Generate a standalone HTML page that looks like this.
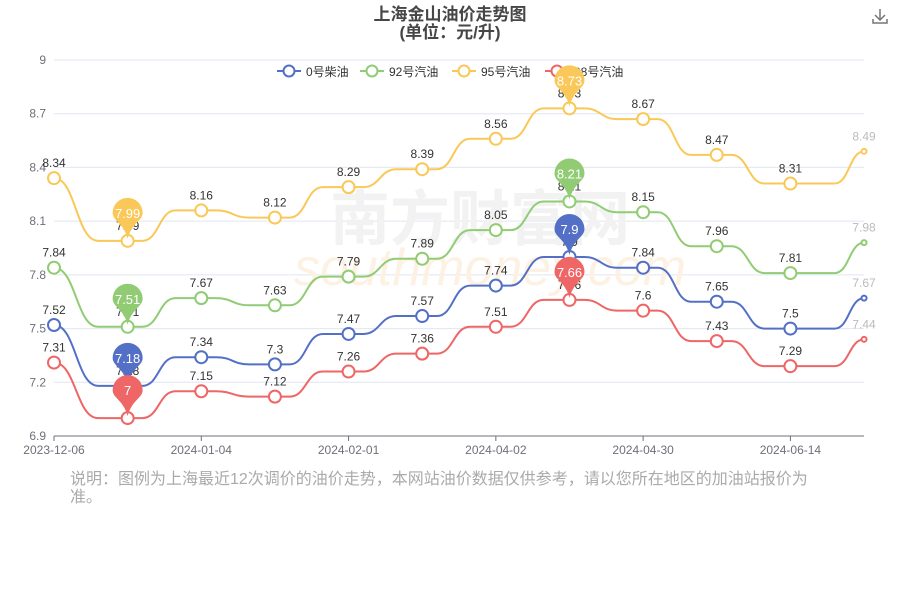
<!DOCTYPE html>
<html><head><meta charset="utf-8"><style>
body{margin:0;background:#fff;}
svg{display:block;font-family:"Liberation Sans","Noto Sans CJK SC",sans-serif;}
</style></head><body>
<svg id="c" width="900" height="600" xmlns="http://www.w3.org/2000/svg">
<text x="450" y="20" text-anchor="middle" font-size="17" font-weight="bold" fill="#464646">上海金山油价走势图</text>
<text x="450" y="38" text-anchor="middle" font-size="17" font-weight="bold" fill="#464646">(单位：元/升)</text>
<g stroke="#777" fill="none" stroke-width="1.5"><path d="M880 9v11M875 15l5 5 5-5M878 22h0M873 19v4h14v-4"/></g>
<g id="g"></g>
<text x="70" y="484" font-size="16" fill="#aaa">说明：图例为上海最近12次调价的油价走势，本网站油价数据仅供参考，请以您所在地区的加油站报价为</text>
<text x="70" y="502" font-size="16" fill="#aaa">准。</text>
</svg>
<script>
const g=document.getElementById('g');let h='';
const Y=v=>60+(9-v)*179.05;
const X=i=>54+i*73.64;
for(let k=0;k<=7;k++){const v=6.9+k*0.3,y=Y(v);
 h+=`<line x1="54" x2="864" y1="${y}" y2="${y}" stroke="#e0e6f1"/>`;
 h+=`<text x="46" y="${y+4}" text-anchor="end" font-size="12" fill="#6e7079">${+v.toFixed(1)}</text>`;}
h+=`<line x1="54" x2="864" y1="436" y2="436" stroke="#6e7079"/>`;
[[0,'2023-12-06'],[2,'2024-01-04'],[4,'2024-02-01'],[6,'2024-04-02'],[8,'2024-04-30'],[10,'2024-06-14']].forEach(([i,t])=>{
 h+=`<line x1="${X(i)}" x2="${X(i)}" y1="436" y2="441" stroke="#6e7079"/><text x="${X(i)}" y="454" text-anchor="middle" font-size="12" fill="#6e7079">${t}</text>`;});
h+=`<text x="480" y="240" text-anchor="middle" font-size="60" font-weight="bold" fill="#f2f2f2">南方财富网</text>`;
h+=`<text x="490" y="285" text-anchor="middle" font-size="52" font-style="italic" fill="#fdf1e4">southmoney.com</text>`;
const S=[
['#5470c6',[7.52,7.18,7.34,7.3,7.47,7.57,7.74,7.9,7.84,7.65,7.5,7.67],'0号柴油',277],
['#91cc75',[7.84,7.51,7.67,7.63,7.79,7.89,8.05,8.21,8.15,7.96,7.81,7.98],'92号汽油',360],
['#fac858',[8.34,7.99,8.16,8.12,8.29,8.39,8.56,8.73,8.67,8.47,8.31,8.49],'95号汽油',452],
['#ee6666',[7.31,7.00,7.15,7.12,7.26,7.36,7.51,7.66,7.60,7.43,7.29,7.44],'98号汽油',545]];
let pins='';
S.forEach(([c,d,n,lx])=>{
 let p=`M${X(0)} ${Y(d[0])}`;
 for(let i=0;i<11;i++){const x0=X(i),x1=X(i+1),dx=x1-x0,y0=Y(d[i]),y1=Y(d[i+1]);
  let a=0.2,b=0.65; if(i==0){a=0;b=0.6;} if(i==10){a=0.6;b=1;}
  p+=` L${x0+a*dx} ${y0} C${x0+(a+b)/2*dx} ${y0} ${x0+(a+b)/2*dx} ${y1} ${x0+b*dx} ${y1} L${x1} ${y1}`;}
 h+=`<path d="${p}" fill="none" stroke="${c}" stroke-width="2"/>`;
 d.forEach((v,i)=>{const x=X(i),y=Y(v),last=i==11;
  h+=`<circle cx="${x}" cy="${y}" r="${last?2.5:6}" fill="#fff" stroke="${c}" stroke-width="2"/>`;
  h+=`<text x="${x}" y="${y-11}" text-anchor="middle" font-size="12" fill="${last?'#bbb':'#333'}">${v}</text>`;});
 [1,7].forEach(i=>{const x=X(i),y=Y(d[i]);const cy=y-28;
  pins+=`<path d="M${x} ${y-2} C${x-4} ${cy+10} ${x-15} ${cy+8} ${x-15} ${cy} A15 15 0 1 1 ${x+15} ${cy} C${x+15} ${cy+8} ${x+4} ${cy+10} ${x} ${y-2}Z" fill="${c}"/>`;
  pins+=`<text x="${x}" y="${cy+5}" text-anchor="middle" font-size="13" fill="#fff">${d[i]}</text>`;});
 h+=`<line x1="${lx}" x2="${lx+24}" y1="71" y2="71" stroke="${c}" stroke-width="2"/><circle cx="${lx+12}" cy="71" r="5.5" fill="#fff" stroke="${c}" stroke-width="2"/><text x="${lx+29}" y="76" font-size="12" fill="#333">${n}</text>`;
});
g.innerHTML=h+pins;
</script>
</body></html>
